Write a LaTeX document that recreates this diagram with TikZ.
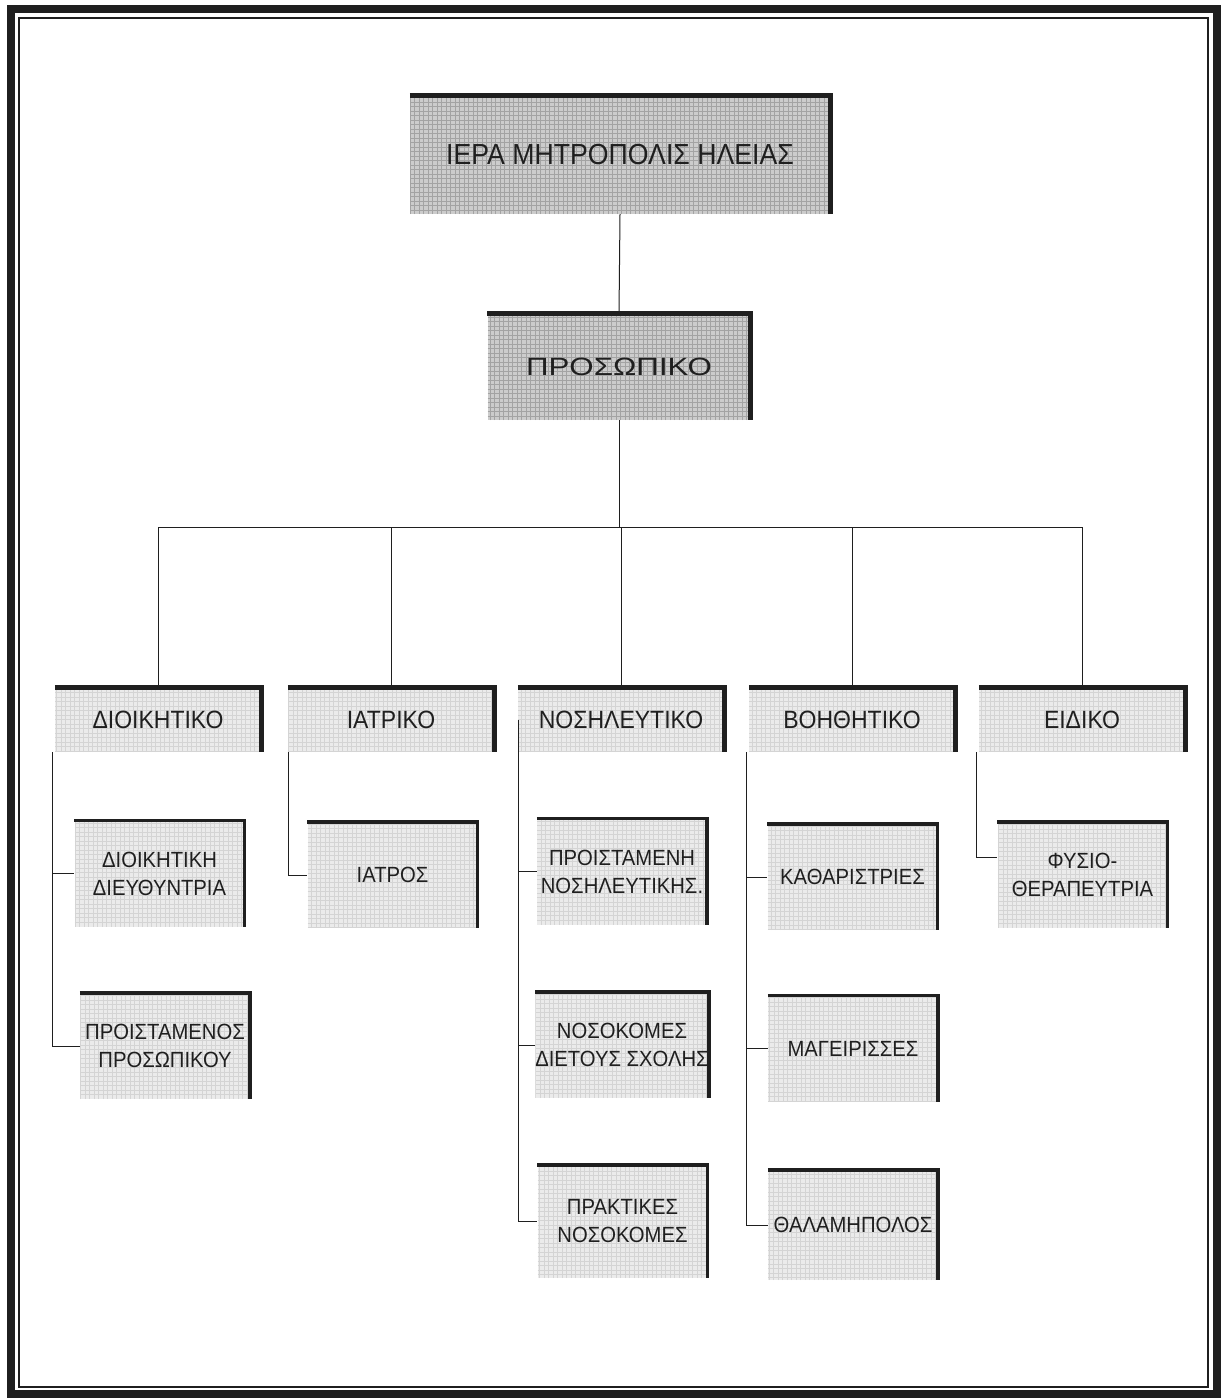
\documentclass[tikz,border=0pt]{standalone}
\usepackage{fontspec}
\setmainfont{Liberation Sans}
\newfontfamily\widefont[FakeStretch=1.25]{Liberation Sans}
\newfontfamily\tallfont[FakeStretch=0.92]{Liberation Sans}
\definecolor{darkfill}{gray}{0.80}
\definecolor{darkgrid}{gray}{0.64}
\definecolor{lightfill}{gray}{0.92}
\definecolor{lightgrid}{gray}{0.83}
\definecolor{ink}{gray}{0.12}
\begin{document}
\begin{tikzpicture}[x=1pt,y=-1pt,
  box/.style={rectangle, inner sep=0pt, align=center, text=ink},
  darkbox/.style={box, fill=darkfill, path picture={\draw[darkgrid, line width=0.6pt, step=4.5pt] (path picture bounding box.south west) grid (path picture bounding box.north east);}},
  lightbox/.style={box, fill=lightfill, path picture={\draw[lightgrid, line width=0.5pt, step=4.5pt] (path picture bounding box.south west) grid (path picture bounding box.north east);}},
  lvltwo/.style={lightbox, minimum width=206pt, minimum height=64pt, font=\tallfont\fontsize{25}{28}\selectfont},
  lvlthree/.style={lightbox, minimum width=170pt, minimum height=106pt, font=\tallfont\fontsize{22}{28}\selectfont},
  conn/.style={draw=ink, line width=1pt},
  edge/.style={draw=ink, line join=miter}
]
\useasboundingbox (0,0) rectangle (1223,1399);
\fill[white] (0,0) rectangle (1223,1399);
% frame
\draw[ink, line width=8pt] (11,9) rectangle (1217,1394);
\draw[ink, line width=2pt] (18.5,18.5) rectangle (1207.5,1386.5);

% level 1
\node[darkbox, minimum width=420pt, minimum height=118pt, font=\tallfont\fontsize{29}{32}\selectfont] (top) at (620,155) {ΙΕΡΑ ΜΗΤΡΟΠΟΛΙΣ ΗΛΕΙΑΣ};
\node[darkbox, minimum width=263pt, minimum height=106pt, font=\widefont\fontsize{25}{28}\selectfont] (pers) at (619,367) {ΠΡΟΣΩΠΙΚΟ};

% level 2
\node[lvltwo] (adm) at (158,720) {ΔΙΟΙΚΗΤΙΚΟ};
\node[lvltwo] (iat) at (391,720) {ΙΑΤΡΙΚΟ};
\node[lvltwo] (nos) at (621,720) {ΝΟΣΗΛΕΥΤΙΚΟ};
\node[lvltwo] (boi) at (852,720) {ΒΟΗΘΗΤΙΚΟ};
\node[lvltwo] (eid) at (1082,720) {ΕΙΔΙΚΟ};

% level 3
\node[lvlthree] (adma) at (159.5,873.5) {ΔΙΟΙΚΗΤΙΚΗ\\ΔΙΕΥΘΥΝΤΡΙΑ};
\node[lvlthree] (admb) at (165,1046) {ΠΡΟΙΣΤΑΜΕΝΟΣ\\ΠΡΟΣΩΠΙΚΟΥ};
\node[lvlthree] (iata) at (392.5,875) {ΙΑΤΡΟΣ};
\node[lvlthree] (nosa) at (622,871.5) {ΠΡΟΙΣΤΑΜΕΝΗ\\ΝΟΣΗΛΕΥΤΙΚΗΣ.};
\node[lvlthree] (nosb) at (622,1045) {ΝΟΣΟΚΟΜΕΣ\\ΔΙΕΤΟΥΣ ΣΧΟΛΗΣ};
\node[lvlthree, minimum height=113pt] (nosc) at (622.5,1221.5) {ΠΡΑΚΤΙΚΕΣ\\ΝΟΣΟΚΟΜΕΣ};
\node[lvlthree] (boia) at (852.5,877) {ΚΑΘΑΡΙΣΤΡΙΕΣ};
\node[lvlthree] (boib) at (853,1048.5) {ΜΑΓΕΙΡΙΣΣΕΣ};
\node[lvlthree, minimum height=110pt] (boic) at (853,1225) {ΘΑΛΑΜΗΠΟΛΟΣ};
\node[lvlthree] (eida) at (1082.5,875) {ΦΥΣΙΟ-\\ΘΕΡΑΠΕΥΤΡΙΑ};

% thick top/right edges
\foreach \n in {top,pers}
  \draw[edge, line width=5pt] (\n.north west) -- (\n.north east) -- (\n.south east);
\foreach \n in {adm,iat,nos,boi,eid}
  \draw[edge, line width=5pt] (\n.north west) -- (\n.north east) -- (\n.south east);
\foreach \n in {adma,admb,iata,nosa,nosb,nosc,boia,boib,boic,eida}
  \draw[edge, line width=3.5pt] (\n.north west) -- (\n.north east) -- (\n.south east);

% connectors
\coordinate (bus) at (619,527);
\draw[conn] (top.south) -- (pers.north);
\draw[conn] (pers.south) -- (bus);
\draw[conn] (bus -| adm.north) -- (bus -| eid.north);
\foreach \n in {adm,iat,nos,boi,eid}
  \draw[conn] (bus -| \n.north) -- (\n.north);

\draw[conn] ([xshift=-2pt]adm.south west) |- (adma.west);
\draw[conn] ([xshift=-2pt]adm.south west) |- (admb.west);
\draw[conn] ([xshift=1pt]iat.south west) |- (iata.west);
\draw[conn] ([xshift=1pt]nos.west) |- (nosa.west);
\draw[conn] ([xshift=1pt]nos.west) |- (nosb.west);
\draw[conn] ([xshift=1pt]nos.west) |- (nosc.west);
\draw[conn] ([xshift=-2pt]boi.south west) |- (boia.west);
\draw[conn] ([xshift=-2pt]boi.south west) |- (boib.west);
\draw[conn] ([xshift=-2pt]boi.south west) |- (boic.west);
\draw[conn] ([xshift=-2pt]eid.south west) |- ([yshift=18pt]eida.west);
\end{tikzpicture}
\end{document}
